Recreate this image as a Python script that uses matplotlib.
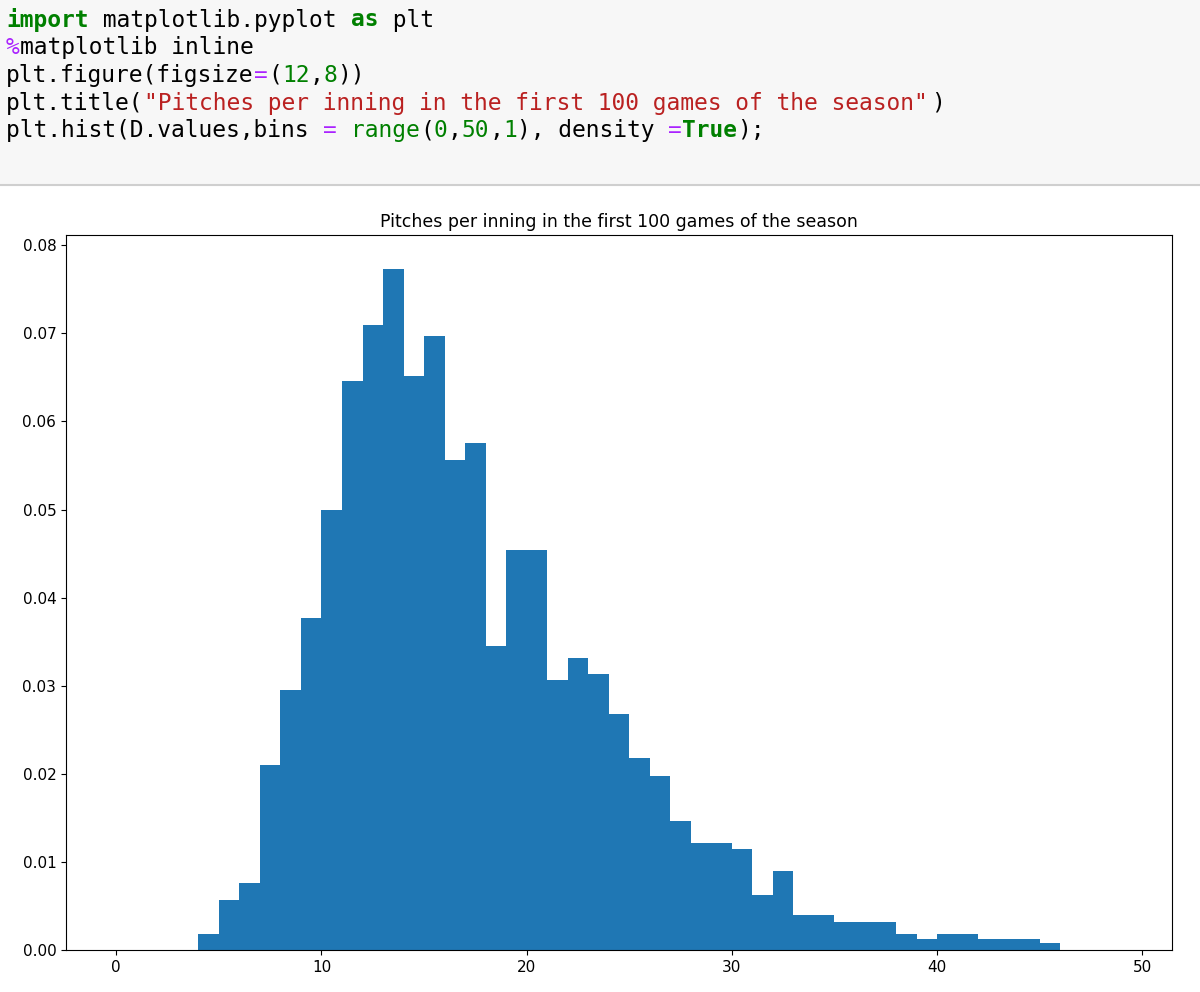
import matplotlib
matplotlib.use("Agg")
import matplotlib.pyplot as plt
import numpy as np

title = "Pitches per inning in the first 100 games of the season"
bin_edges = list(range(0, 50, 1))
densities = [0, 0, 0, 0, 0.0018, 0.0057, 0.0076, 0.0210, 0.0295, 0.0377,
             0.0500, 0.0646, 0.0710, 0.0773, 0.0652, 0.0697, 0.0556, 0.0576, 0.0345, 0.0454,
             0.0454, 0.0306, 0.0332, 0.0313, 0.0268, 0.0218, 0.0198, 0.0147, 0.0121, 0.0121,
             0.0115, 0.0063, 0.0090, 0.0040, 0.0040, 0.0032, 0.0032, 0.0032, 0.0018, 0.0013,
             0.0018, 0.0018, 0.0013, 0.0013, 0.0013, 0.0008, 0, 0, 0]

code_lines = [
    [("import", "#008000", True), (" matplotlib.pyplot ", "black", False), ("as", "#008000", True), (" plt", "black", False)],
    [("%", "#AA22FF", False), ("matplotlib inline", "black", False)],
    [("plt.figure(figsize", "black", False), ("=", "#AA22FF", False), ("(", "black", False), ("12", "#008000", False), (",", "black", False), ("8", "#008000", False), ("))", "black", False)],
    [("plt.title(", "black", False), ('"Pitches per inning in the first 100 games of the season"', "#BA2121", False), (")", "black", False)],
    [("plt.hist(D.values,bins ", "black", False), ("=", "#AA22FF", False), (" ", "black", False), ("range", "#008000", False), ("(", "black", False), ("0", "#008000", False), (",", "black", False), ("50", "#008000", False), (",", "black", False), ("1", "#008000", False), ("), density ", "black", False), ("=", "#AA22FF", False), ("True", "#008000", True), (");", "black", False)],
]

W, H = 1200, 992
fig = plt.figure(figsize=(W / 100, H / 100), dpi=100)
fig.patches.append(plt.Rectangle((0, 1 - 185 / H), 1, 185 / H, transform=fig.transFigure,
                                 facecolor="#f7f7f7", edgecolor="none", zorder=0))
fig.add_artist(plt.Line2D([0, 1], [1 - 185 / H] * 2, transform=fig.transFigure, color="#cfcfcf", lw=1.5))
cw = 13.8
for i, segs in enumerate(code_lines):
    col = 0
    y = 1 - (20 + i * 27.7) / H
    for txt, c, bold in segs:
        fig.text((6 + col * cw) / W, y, txt, color=c, fontweight="bold" if bold else "normal",
                 family="DejaVu Sans Mono", fontsize=16.5, va="center", ha="left")
        col += len(txt)

ax = fig.add_axes([66 / W, 42 / H, (1172 - 66) / W, (950 - 235) / H])
ax.hist(bin_edges[:-1], bins=bin_edges, weights=densities[:len(bin_edges) - 1], color="#1f77b4")
ax.set_title(title, fontsize=12.5)
ax.tick_params(labelsize=11)
fig.savefig("out.png", dpi=100)
